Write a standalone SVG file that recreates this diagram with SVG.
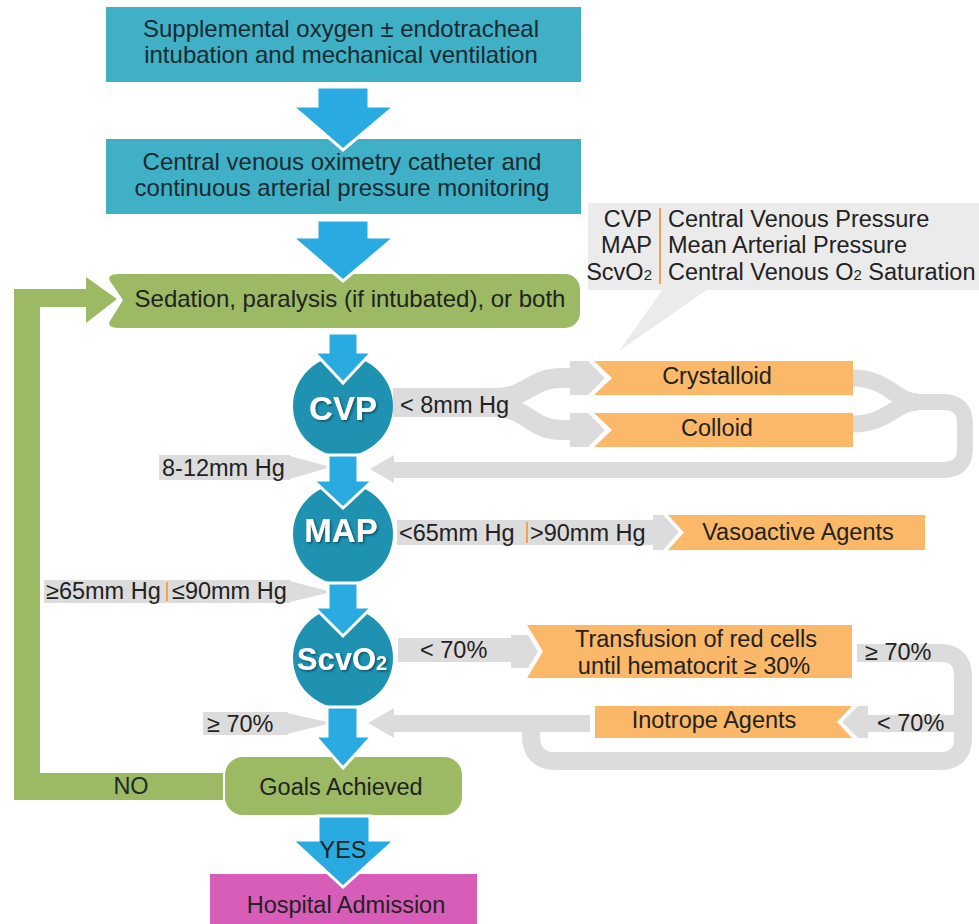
<svg xmlns="http://www.w3.org/2000/svg" width="979" height="924" viewBox="0 0 979 924">
<defs>
<filter id="sh" x="-20%" y="-20%" width="140%" height="140%"><feDropShadow dx="1.5" dy="1.5" stdDeviation="0.8" flood-color="#0a4c60" flood-opacity="0.9"/></filter>
</defs>
<style>
text{font-family:"Liberation Sans",Arial,Helvetica,sans-serif;font-size:23.5px;fill:#222}
.mid{text-anchor:middle}
.end{text-anchor:end}
.teal{fill:#3fb0c6}
.blue{fill:#29aae1;stroke:#fff;stroke-width:3;stroke-linejoin:miter}
.circ{fill:#1f92b2}
.green{fill:#9bba63}
.orange{fill:#fbb868}
.gray{fill:#dcdcdc}
.band{fill:none;stroke:#dcdcdc}
.sep{stroke:#f2a24e;stroke-width:2}
.clab{font-weight:bold;font-size:33px;fill:#fff;filter:url(#sh)}
.dk{fill:#1c2a30}
</style>
<rect width="979" height="924" fill="#fff"/>

<g id="connectors">
  <!-- green NO loop -->
  <path class="green" d="M14,800 V289 H86 V277 L117,299 L86,323 V307 H40 V773 H223 V800 Z"/>
  <text class="mid dk" x="131" y="794">NO</text>

  <!-- CVP < 8mm Hg branch -->
  <rect class="gray" x="393" y="388" width="112" height="29"/>
  <path class="band" stroke-width="20" d="M495,398 C528,398 530,378 562,378 H576"/>
  <path class="band" stroke-width="20" d="M495,407 C528,407 530,430 562,430 H576"/>
  <polygon class="gray" points="570,361 588,361 605,378 588,395 570,395"/>
  <polygon class="gray" points="570,413 588,413 605,430 588,447 570,447"/>
  <text x="400" y="413">&lt; 8mm Hg</text>

  <!-- return loop from Crystalloid/Colloid -->
  <path class="band" stroke-width="17" d="M853,378 C888,378 895,402 918,402"/>
  <path class="band" stroke-width="17" d="M853,424 C888,424 895,402 918,402"/>
  <path class="band" stroke-width="16" d="M912,402 H943 Q965,402 965,424 V448 Q965,470 943,470 H390"/>
  <polygon class="gray" points="370,469 394,455 394,483"/>

  <!-- 8-12mm Hg -->
  <rect class="gray" x="159" y="455" width="131" height="25"/>
  <polygon class="gray" points="290,456 331,467 290,479"/>
  <text x="162" y="476">8-12mm Hg</text>

  <!-- MAP branch -->
  <rect class="gray" x="397" y="520" width="257" height="25"/>
  <polygon class="gray" points="653,515 663,515 679,532 663,550 653,550"/>
  <line class="sep" x1="527" y1="522" x2="527" y2="543"/>
  <text x="399" y="541">&lt;65mm Hg</text>
  <text x="530" y="541">&gt;90mm Hg</text>

  <!-- ≥65 | ≤90 -->
  <rect class="gray" x="44" y="580" width="246" height="23"/>
  <polygon class="gray" points="290,581 332,592 290,602"/>
  <line class="sep" x1="167" y1="582" x2="167" y2="601"/>
  <text x="46" y="599">≥65mm Hg</text>
  <text x="172" y="599">≤90mm Hg</text>

  <!-- ScvO2 < 70% -->
  <rect class="gray" x="398" y="638" width="115" height="24"/>
  <polygon class="gray" points="511,635 528,635 538,651.5 528,668 511,668"/>
  <text x="420" y="658">&lt; 70%</text>

  <!-- ≥ 70% loop to goals -->
  <rect class="gray" x="857" y="644" width="80" height="18"/>
  <path class="band" stroke-width="18" d="M930,653 H940 Q963,653 963,676 V738 Q963,761 940,761 H556 Q531,761 531,736 V728"/>
  <text x="865" y="660">≥ 70%</text>

  <!-- < 70% into Inotrope -->
  <rect class="gray" x="867" y="715" width="88" height="17"/>
  <polygon class="gray" points="868,706 858,706 842,722 858,738 868,738"/>
  <text x="877" y="731">&lt; 70%</text>

  <!-- Inotrope to goals -->
  <rect class="gray" x="392" y="715" width="198" height="17"/>
  <polygon class="gray" points="368,723 394,708 394,738"/>

  <!-- ≥ 70% -->
  <rect class="gray" x="203" y="712" width="85" height="23"/>
  <polygon class="gray" points="287,713 332,723 287,734"/>
  <text x="207" y="732">≥ 70%</text>
</g>

<g id="legend">
  <polygon points="663,289 708,289 619,351" fill="#ebebeb"/>
  <rect x="588" y="203" width="391" height="87" fill="#ebebeb"/>
  <line class="sep" x1="660" y1="208" x2="660" y2="284"/>
  <text class="end" x="652" y="227">CVP</text>
  <text class="end" x="652" y="253">MAP</text>
  <text class="end" x="652" y="280">ScvO<tspan font-size="15">2</tspan></text>
  <text x="668" y="227">Central Venous Pressure</text>
  <text x="668" y="253">Mean Arterial Pressure</text>
  <text x="668" y="280">Central Venous O<tspan font-size="15">2</tspan> Saturation</text>
</g>

<g id="box-oxygen">
  <rect class="teal" x="106" y="7" width="475" height="75"/>
  <text class="mid dk" x="341" y="37" style="font-size:24px">Supplemental oxygen ± endotracheal</text>
  <text class="mid dk" x="341" y="63" style="font-size:24px">intubation and mechanical ventilation</text>
</g>

<g id="box-catheter">
  <rect class="teal" x="106" y="139" width="475" height="75"/>
  <text class="mid dk" x="342" y="170" style="font-size:24px">Central venous oximetry catheter and</text>
  <text class="mid dk" x="342" y="196" style="font-size:24px">continuous arterial pressure monitoring</text>
</g>

<g id="box-sedation">
  <path class="green" d="M120,274 H565 A15,15 0 0 1 580,289 V313 A15,15 0 0 1 565,328 H120 Q106,328 110,321 L123,300 L110,281 Q106,274 120,274 Z"/>
  <text class="mid" x="350" y="307" fill="#1e2a12" style="font-size:24px">Sedation, paralysis (if intubated), or both</text>
</g>

<g id="node-cvp">
  <circle class="circ" cx="343" cy="406" r="50"/>
  <text class="mid clab" x="343" y="420">CVP</text>
</g>

<g id="node-map">
  <circle class="circ" cx="343" cy="534" r="50"/>
  <text class="mid clab" x="341" y="542">MAP</text>
</g>

<g id="node-scvo2">
  <circle class="circ" cx="343" cy="658" r="50"/>
  <text class="mid clab" x="342" y="670" style="font-size:31px">ScvO<tspan font-size="20">2</tspan></text>
</g>

<g id="box-crystalloid">
  <polygon class="orange" points="594,361 853,361 853,395 594,395 612,378"/>
  <text class="mid" x="717" y="384">Crystalloid</text>
</g>

<g id="box-colloid">
  <polygon class="orange" points="594,413 853,413 853,447 594,447 612,430"/>
  <text class="mid" x="717" y="436">Colloid</text>
</g>

<g id="box-vasoactive">
  <polygon class="orange" points="668,515 925,515 925,550 668,550 684,532.5"/>
  <text class="mid" x="798" y="540">Vasoactive Agents</text>
</g>

<g id="box-transfusion">
  <polygon class="orange" points="527,625 852,625 852,678 527,678 543,651.5"/>
  <text class="mid" x="696" y="647">Transfusion of red cells</text>
  <text class="mid" x="694" y="674">until hematocrit ≥ 30%</text>
</g>

<g id="box-inotrope">
  <polygon class="orange" points="595,706 852,706 837,722 852,738 595,738"/>
  <text class="mid" x="714" y="728">Inotrope Agents</text>
</g>

<g id="box-goals">
  <rect class="green" x="225" y="757" width="237" height="58" rx="18"/>
  <text class="mid" x="341" y="795" fill="#1e2a12">Goals Achieved</text>
</g>

<g id="box-hospital">
  <rect x="210" y="874" width="267" height="60" fill="#d85db8"/>
  <text class="mid" x="346" y="913" fill="#3a1838">Hospital Admission</text>
</g>

<g id="flow-arrows">
  <polygon class="blue" points="317,87 369,87 369,106 395,106 343,150 292,106 317,106"/>
  <polygon class="blue" points="317,220 369,220 369,237 395,237 343,281 292,237 317,237"/>
  <polygon class="blue" points="328,333 358,333 358,352 372,352 343,383 314,352 328,352"/>
  <polygon class="blue" points="328,455 358,455 358,480 373,480 343,508 313,480 328,480"/>
  <polygon class="blue" points="328,583 358,583 358,607 372,607 343,636 314,607 328,607"/>
  <polygon class="blue" points="327,707 358,707 358,736 372,736 343,768 315,736 327,736"/>
  <polygon class="blue" points="318,816 370,816 370,840 395,840 343,887 292,840 318,840"/>
  <text class="mid" x="343" y="858" fill="#0f2a48">YES</text>
</g>
</svg>
